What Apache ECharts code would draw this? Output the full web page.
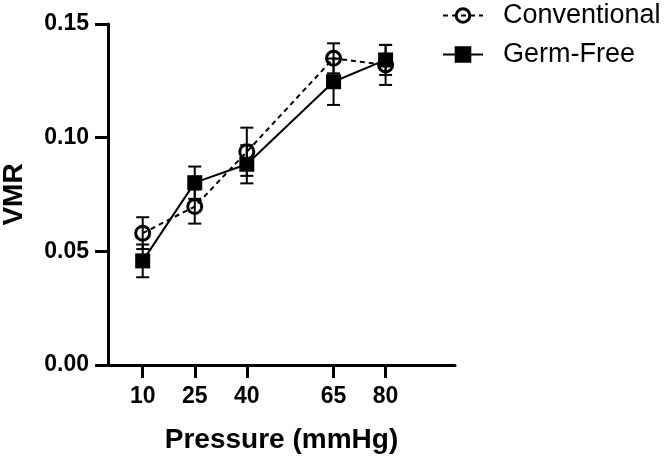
<!DOCTYPE html>
<html>
<head>
<meta charset="utf-8">
<script src="https://cdn.jsdelivr.net/npm/echarts@6/dist/echarts.min.js"></script>
<style>html,body{margin:0;padding:0;background:#fff;}#c{width:664px;height:456px;}</style>
</head>
<body>
<div id="c"></div>
<script>
var pressures = [10, 25, 40, 65, 80];
var xTicks = [10, 25, 40, 65, 80];
var yTicks = [0, 0.05, 0.10, 0.15];
var convMean = [0.058, 0.0697, 0.0938, 0.1349, 0.132];
var convErr = [0.0070, 0.0075, 0.0106, 0.0066, 0.0088];
var gfMean = [0.0458, 0.0802, 0.0883, 0.1246, 0.1342];
var gfErr = [0.0072, 0.0071, 0.0084, 0.0102, 0.0066];

function pairs(xs, ys) { return xs.map(function (x, i) { return [x, ys[i]]; }); }
function triples(xs, ys, es) { return xs.map(function (x, i) { return [x, ys[i], es[i]]; }); }

function errRender(params, api) {
  var x = api.value(0), y = api.value(1), e = api.value(2);
  var t = api.coord([x, y + e]), b = api.coord([x, y - e]);
  var hw = 6.5;
  var st = { stroke: '#000', lineWidth: 2 };
  return {
    type: 'group',
    children: [
      { type: 'line', shape: { x1: t[0], y1: t[1], x2: b[0], y2: b[1] }, style: st },
      { type: 'line', shape: { x1: t[0] - hw, y1: t[1], x2: t[0] + hw, y2: t[1] }, style: st },
      { type: 'line', shape: { x1: b[0] - hw, y1: b[1], x2: b[0] + hw, y2: b[1] }, style: st }
    ]
  };
}

var chart = echarts.init(document.getElementById('c'), null, { renderer: 'canvas' });
var font = '"Liberation Sans", Arial, sans-serif';
chart.setOption({
  animation: false,
  backgroundColor: '#fff',
  grid: { left: 108, right: 209, top: 24, bottom: 91, containLabel: false, outerBoundsMode: 'none' },
  legend: {
    orient: 'vertical',
    left: 437,
    top: -5,
    itemWidth: 40,
    itemHeight: 17,
    itemGap: 8,
    itemStyle: { borderWidth: 3 },
    textStyle: { fontFamily: font, fontSize: 27, color: '#000', lineHeight: 31, padding: [0, 0, 0, 15] },
    data: ['Conventional', 'Germ-Free']
  },
  xAxis: {
    type: 'value',
    min: 0,
    max: 100,
    name: 'Pressure (mmHg)',
    nameLocation: 'middle',
    nameGap: 61,
    nameTextStyle: { fontFamily: font, fontSize: 28, fontWeight: 'bold', color: '#000' },
    axisLine: { show: true, lineStyle: { color: '#000', width: 3 } },
    axisTick: { show: true, length: 13, lineStyle: { color: '#000', width: 3 }, customValues: xTicks },
    axisLabel: { fontFamily: font, fontSize: 23, fontWeight: 'bold', color: '#000', margin: 20, customValues: xTicks },
    splitLine: { show: false }
  },
  yAxis: {
    type: 'value',
    min: 0,
    max: 0.15,
    interval: 0.05,
    name: 'VMR',
    nameLocation: 'middle',
    nameGap: 80,
    nameTextStyle: { fontFamily: font, fontSize: 28, fontWeight: 'bold', color: '#000' },
    axisLine: { show: true, lineStyle: { color: '#000', width: 3 } },
    axisTick: { show: true, length: 13, lineStyle: { color: '#000', width: 3 } },
    axisLabel: {
      fontFamily: font, fontSize: 23, fontWeight: 'bold', color: '#000', margin: 19,
      formatter: function (v) { return v.toFixed(2); }
    },
    splitLine: { show: false }
  },
  series: [
    {
      type: 'custom', name: 'convErr', renderItem: errRender,
      data: triples(pressures, convMean, convErr), z: 1, silent: true
    },
    {
      type: 'custom', name: 'gfErr', renderItem: errRender,
      data: triples(pressures, gfMean, gfErr), z: 1, silent: true
    },
    {
      type: 'line', name: 'Conventional',
      data: pairs(pressures, convMean),
      symbol: 'circle', symbolSize: 14,
      itemStyle: { color: 'rgba(255,255,255,0)', borderColor: '#000', borderWidth: 3 },
      lineStyle: { color: '#000', width: 2, type: [5, 4] },
      z: 2
    },
    {
      type: 'line', name: 'Germ-Free',
      data: pairs(pressures, gfMean),
      symbol: 'rect', symbolSize: 15,
      itemStyle: { color: '#000', borderColor: '#000', borderWidth: 0 },
      lineStyle: { color: '#000', width: 2, type: 'solid' },
      z: 3
    }
  ]
});
</script>
</body>
</html>
